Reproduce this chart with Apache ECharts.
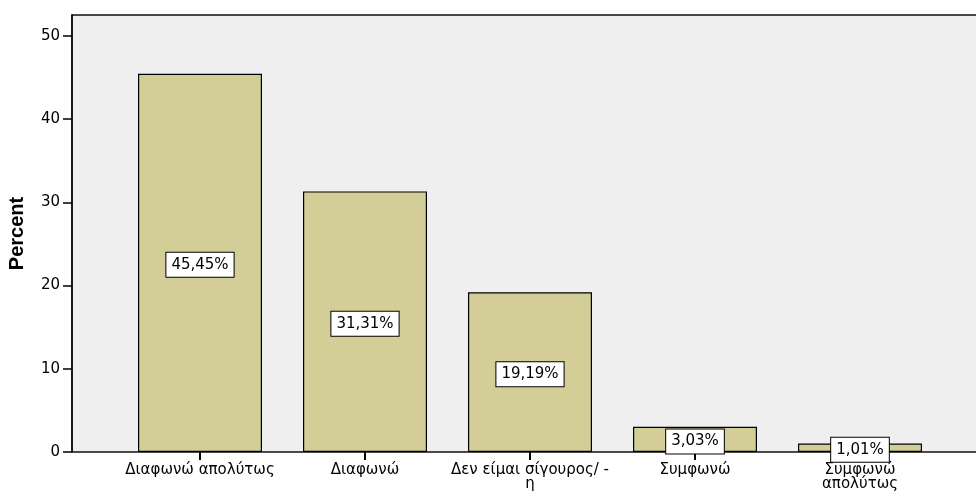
<!DOCTYPE html>
<html>
<head>
<meta charset="utf-8">
<script src="https://cdn.jsdelivr.net/npm/echarts@6/dist/echarts.min.js"></script>
<style>
  html, body { margin: 0; padding: 0; background: #ffffff; }
  #chart { width: 976px; height: 491px; }
</style>
</head>
<body>
<div id="chart"></div>
<script>
// Response categories and their percentages
const categories = ['Διαφωνώ απολύτως', 'Διαφωνώ', 'Δεν είμαι σίγουρος/ -\nη', 'Συμφωνώ', 'Συμφωνώ\nαπολύτως'];
const percents = [45.45, 31.31, 19.19, 3.03, 1.01];
const yTicks = [0, 10, 20, 30, 40, 50];
const yMax = 52.5;

const FONT = 'DejaVu Sans, Verdana, sans-serif';

const chart = echarts.init(document.getElementById('chart'), null, { renderer: 'canvas' });

chart.setOption({
  animation: false,
  backgroundColor: '#ffffff',
  grid: [
    // bars
    { left: 117.5, width: 825, top: 15, bottom: 39, containLabel: false, outerBoundsMode: 'none' },
    // framed plot panel with the percent scale
    { left: 72, right: -30, top: 15, bottom: 39, show: true, outerBoundsMode: 'none',
      backgroundColor: '#efefef', borderColor: '#111', borderWidth: 1.3 }
  ],
  xAxis: [
    {
      type: 'category', gridIndex: 0, data: categories,
      axisLine: { show: false },
      axisTick: { show: true, alignWithLabel: true, length: 8, lineStyle: { color: '#000', width: 2 } },
      axisLabel: { color: '#000', fontFamily: FONT, fontSize: 15, margin: 11, lineHeight: 14, interval: 0 }
    },
    { type: 'value', gridIndex: 1, show: false, min: 0, max: 1 }
  ],
  yAxis: [
    { type: 'value', gridIndex: 0, show: false, min: 0, max: yMax },
    {
      type: 'value', gridIndex: 1, min: 0, max: yMax,
      name: 'Percent', nameLocation: 'middle', nameGap: 45, nameRotate: 90,
      nameTextStyle: { color: '#000', fontFamily: 'Liberation Sans, Arial, sans-serif', fontSize: 20, fontWeight: 'bold' },
      splitLine: { show: false },
      axisLine: { show: true, lineStyle: { color: '#000', width: 1.5 } },
      axisTick: { show: true, length: 9, lineStyle: { color: '#000', width: 1.5 }, customValues: yTicks },
      axisLabel: { color: '#000', fontFamily: FONT, fontSize: 15, margin: 12, customValues: yTicks }
    }
  ],
  series: [
    {
      type: 'bar', xAxisIndex: 0, yAxisIndex: 0,
      data: percents,
      barWidth: 124,
      itemStyle: { color: '#d3ce98', borderColor: '#000', borderWidth: 1.2 },
      label: {
        show: true, position: 'inside', offset: [0, 2],
        formatter: p => p.value.toFixed(2).replace('.', ',') + '%',
        color: '#000', fontFamily: FONT, fontSize: 15, lineHeight: 16,
        backgroundColor: '#ffffff', borderColor: '#000', borderWidth: 1,
        padding: [4, 5]
      }
    }
  ]
});
</script>
</body>
</html>
